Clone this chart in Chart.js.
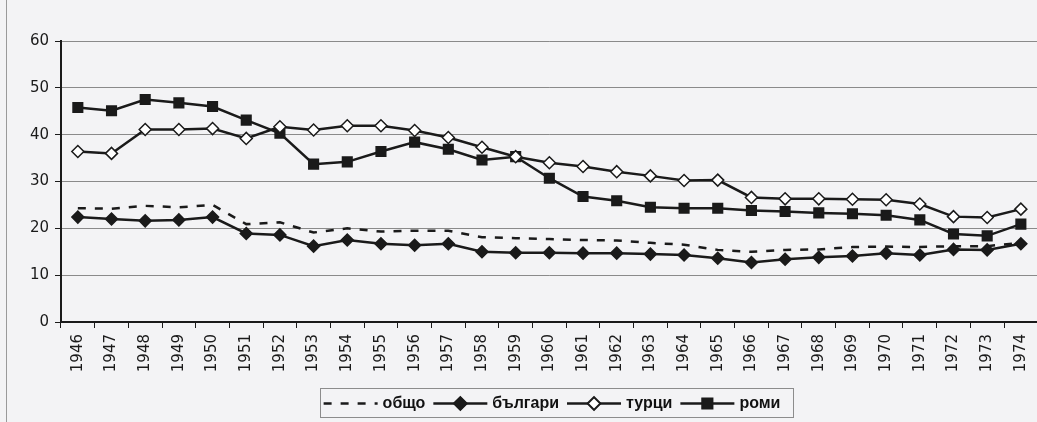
<!DOCTYPE html>
<html>
<head>
<meta charset="utf-8">
<script src="https://cdn.jsdelivr.net/npm/chart.js@4.4.1/dist/chart.umd.min.js"></script>
<style>
  html, body { margin: 0; padding: 0; background: #f3f3f5; overflow: hidden; }
  #wrap { position: relative; width: 1037px; height: 422px; overflow: hidden; }
  #edge { position: absolute; left: 6px; top: 0; width: 1px; height: 422px; background: #9a9a9a; }
  #holder { position: absolute; left: 0; top: 0; width: 1046px; height: 422px; }
</style>
</head>
<body>
<div id="wrap">
  <div id="edge"></div>
  <div id="holder"><canvas id="chart" width="1046" height="422"></canvas></div>
</div>
<script>
// years on the x axis
const years = ["1946", "1947", "1948", "1949", "1950", "1951", "1952", "1953", "1954", "1955",
               "1956", "1957", "1958", "1959", "1960", "1961", "1962", "1963", "1964", "1965",
               "1966", "1967", "1968", "1969", "1970", "1971", "1972", "1973", "1974"];

// series values
const obshto = [24.3, 24.2, 24.8, 24.5, 25.0, 20.9, 21.3, 19.1, 20.0, 19.3,
                19.5, 19.5, 18.1, 17.9, 17.7, 17.5, 17.4, 16.9, 16.5, 15.4,
                15.0, 15.4, 15.5, 16.0, 16.1, 16.0, 16.2, 16.2, 16.9];
const bulgari = [22.4, 22.0, 21.6, 21.8, 22.4, 18.9, 18.6, 16.2, 17.5, 16.7,
                 16.4, 16.7, 15.0, 14.8, 14.8, 14.7, 14.7, 14.5, 14.3, 13.6,
                 12.7, 13.4, 13.8, 14.1, 14.7, 14.3, 15.5, 15.4, 16.7];
const turci = [36.4, 36.0, 41.1, 41.1, 41.3, 39.2, 41.7, 41.0, 41.9, 41.9,
               40.9, 39.4, 37.3, 35.3, 34.0, 33.2, 32.1, 31.2, 30.2, 30.3,
               26.6, 26.3, 26.3, 26.2, 26.1, 25.2, 22.5, 22.3, 24.1];
const romi = [45.8, 45.1, 47.5, 46.8, 46.0, 43.1, 40.3, 33.7, 34.2, 36.4,
              38.4, 36.9, 34.6, 35.3, 30.7, 26.8, 25.9, 24.5, 24.3, 24.3,
              23.8, 23.6, 23.3, 23.1, 22.8, 21.8, 18.8, 18.4, 20.9];

const yTicks = [0, 10, 20, 30, 40, 50, 60];

const INK = "#1a1a1a";
const FONT = "'Liberation Sans', Arial, sans-serif";
const TICK_FONT = "'DejaVu Sans', sans-serif";

// legend drawn by hand: line sample with marker, in a framed box
const boxLegend = {
    id: "boxLegend",
    afterDraw(chart) {
        const ctx = chart.ctx;
        const sets = chart.data.datasets;
        ctx.save();
        ctx.font = "bold 16px " + FONT;
        const sample = 54, gap = 5;
        let total = 8;
        sets.forEach(ds => { total += sample + gap + ctx.measureText(ds.label).width + 8; });
        const cx = 556, top = 388, h = 29;
        let x = cx - total / 2;
        ctx.strokeStyle = "#8c8c8c";
        ctx.lineWidth = 1;
        ctx.strokeRect(Math.round(x) + 0.5, top + 0.5, Math.round(total), h);
        x += 4;
        const cy = top + h / 2 + 1;
        sets.forEach(ds => {
            ctx.strokeStyle = INK;
            ctx.lineWidth = 2.5;
            ctx.setLineDash(ds.borderDash || []);
            ctx.beginPath();
            ctx.moveTo(x, cy);
            ctx.lineTo(x + sample, cy);
            ctx.stroke();
            ctx.setLineDash([]);
            if (ds.pointRadius > 0) {
                Chart.helpers.drawPoint(ctx, {
                    pointStyle: ds.pointStyle,
                    radius: ds.pointRadius,
                    borderWidth: ds.pointBorderWidth,
                    rotation: 0
                }, x + sample / 2, cy);
                ctx.fillStyle = ds.pointBackgroundColor;
                ctx.strokeStyle = INK;
                ctx.lineWidth = ds.pointBorderWidth;
                ctx.fill();
                ctx.stroke();
            }
            x += sample + gap;
            ctx.fillStyle = "#111";
            ctx.textBaseline = "middle";
            ctx.fillText(ds.label, x, cy);
            x += ctx.measureText(ds.label).width + 8;
        });
        ctx.restore();
    }
};

function series(label, data, extra) {
    return Object.assign({
        label: label,
        data: data,
        borderColor: INK,
        borderWidth: 2.5,
        tension: 0,
        pointBorderColor: INK,
        pointBorderWidth: 1.5,
        pointBackgroundColor: INK
    }, extra);
}

const ctx = document.getElementById("chart").getContext("2d");
new Chart(ctx, {
    type: "line",
    data: {
        labels: years,
        datasets: [
            series("общо", obshto, { borderDash: [8, 9], pointRadius: 0 }),
            series("българи", bulgari, { pointStyle: "rectRot", pointRadius: 6 }),
            series("турци", turci, { pointStyle: "rectRot", pointRadius: 6, pointBackgroundColor: "#ffffff" }),
            series("роми", romi, { pointStyle: "rect", pointRadius: 6.8 })
        ]
    },
    options: {
        responsive: false,
        animation: false,
        layout: { padding: { top: 41, right: 0, bottom: 0, left: 0 } },
        plugins: {
            legend: { display: false },
            tooltip: { enabled: false }
        },
        scales: {
            x: {
                offset: true,
                grid: { offset: true, drawOnChartArea: false, tickLength: 6, color: INK, lineWidth: 1 },
                border: { color: INK, width: 2 },
                ticks: {
                    autoSkip: false, maxRotation: 90, minRotation: 90,
                    color: "#1a1a1a", font: { family: TICK_FONT, size: 15 }, padding: 6
                },
                afterFit: s => { s.height = 100; s.paddingLeft = 0; s.paddingRight = 0; }
            },
            y: {
                min: 0, max: 60,
                afterBuildTicks: s => { s.ticks = yTicks.map(v => ({ value: v })); },
                grid: { color: "#8a8a8a", lineWidth: 1, tickLength: 6, tickColor: INK },
                border: { color: INK, width: 2 },
                ticks: { color: "#1a1a1a", font: { family: TICK_FONT, size: 15 }, padding: 6 },
                afterFit: s => { s.width = 61; }
            }
        }
    },
    plugins: [boxLegend]
});
</script>
</body>
</html>
